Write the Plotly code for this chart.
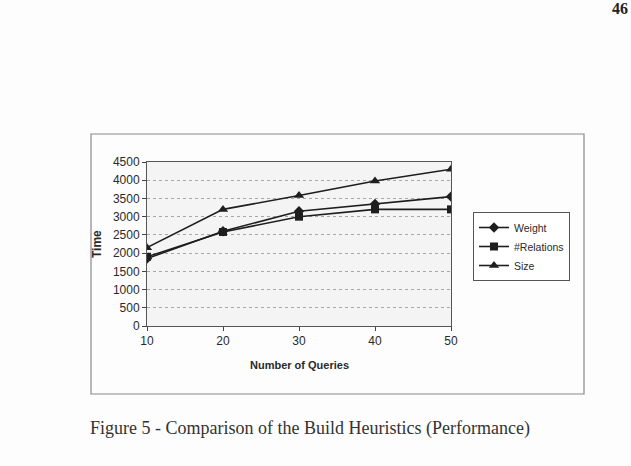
import plotly.graph_objects as go

queries = [10, 20, 30, 40, 50]
weight = [1850, 2600, 3150, 3350, 3550]
relations = [1900, 2580, 3000, 3200, 3200]
size = [2150, 3200, 3580, 3980, 4300]
y_ticks = [0, 500, 1000, 1500, 2000, 2500, 3000, 3500, 4000, 4500]

W, H = 631, 466
L, R, T, B = 147, 180, 162, 140
pw, ph = W - L - R, H - T - B

def px(x):
    return (x - L) / pw

def py(y):
    return (H - B - y) / ph

fig = go.Figure()
series = [("Weight", weight, "diamond", 8), ("#Relations", relations, "square", 8), ("Size", size, "triangle-up", 9)]
for name, vals, sym, ms in series:
    fig.add_trace(go.Scatter(
        x=queries, y=vals, name=name, mode="lines+markers",
        line=dict(color="#1e1e1e", width=1.6),
        marker=dict(symbol=sym, size=ms, color="#1e1e1e"),
    ))

fig.update_layout(
    width=W, height=H,
    margin=dict(l=L, r=R, t=T, b=B),
    paper_bgcolor="#fdfdfd",
    plot_bgcolor="#f4f4f4",
    font=dict(family="Liberation Sans, Arial", size=12, color="#2a2a2a"),
    showlegend=True,
    legend=dict(
        x=px(473), y=py(212), xanchor="left", yanchor="top",
        bgcolor="#ffffff", bordercolor="#555555", borderwidth=1,
        font=dict(size=10.5, color="#2a2a2a"),
        itemwidth=30, tracegroupgap=0,
    ),
    xaxis=dict(
        range=[10, 50], tickvals=queries, ticks="outside", ticklen=4,
        tickcolor="#444", showgrid=False, zeroline=False,
        showline=True, linecolor="#555", linewidth=1, mirror=True,
        tickfont=dict(size=12),
    ),
    yaxis=dict(
        range=[0, 4500], tickvals=y_ticks, ticks="outside", ticklen=4,
        tickcolor="#444", showgrid=True, gridcolor="#a8a8a8", griddash="dot",
        gridwidth=1, zeroline=False,
        showline=True, linecolor="#555", linewidth=1, mirror=True,
        tickfont=dict(size=12),
    ),
    shapes=[dict(
        type="rect", xref="paper", yref="paper",
        x0=px(91), x1=px(584), y0=py(394), y1=py(134),
        line=dict(color="#8a8a8a", width=1.2), layer="below",
    )],
    annotations=[
        dict(text="<b>Time</b>", xref="paper", yref="paper", x=px(97), y=py(244),
             xanchor="center", yanchor="middle",
             showarrow=False, textangle=-90, font=dict(size=12, color="#2a2a2a")),
        dict(text="<b>Number of Queries</b>", xref="paper", yref="paper", x=px(299), y=py(365),
             xanchor="center", yanchor="middle",
             showarrow=False, font=dict(size=11, color="#2a2a2a")),
        dict(text="Figure 5 - Comparison of the Build Heuristics (Performance)",
             xref="paper", yref="paper", x=px(310), y=py(428), showarrow=False,
             xanchor="center", yanchor="middle",
             font=dict(family="Liberation Serif, Times New Roman", size=18, color="#333")),
        dict(text="<b>46</b>", xref="paper", yref="paper", x=px(620), y=py(8), showarrow=False,
             xanchor="center", yanchor="middle",
             font=dict(family="Liberation Serif, Times New Roman", size=16, color="#222")),
    ],
)

fig.write_html("out.html")
